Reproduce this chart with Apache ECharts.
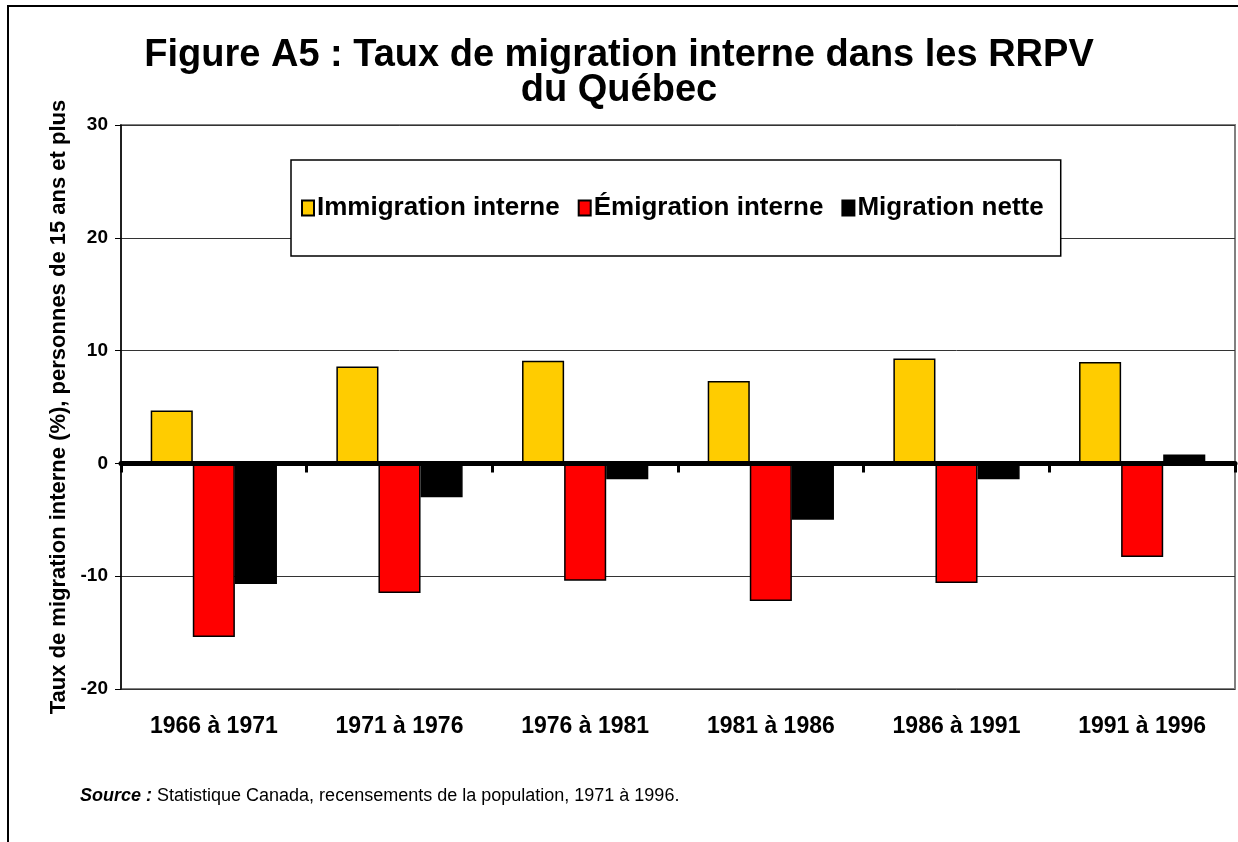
<!DOCTYPE html>
<html>
<head>
<meta charset="utf-8">
<script src="https://cdn.jsdelivr.net/npm/echarts@6/dist/echarts.min.js"></script>
<style>
    html, body { margin: 0; padding: 0; background: #fff; }
    #chart { width: 1238px; height: 842px; }
</style>
</head>
<body>
<div id="chart"></div>
<script>
// données
var categories = ['1966 à 1971', '1971 à 1976', '1976 à 1981', '1981 à 1986', '1986 à 1991', '1991 à 1996'];
var immigration = [4.7, 8.6, 9.1, 7.3, 9.3, 9.0];
var emigration = [-15.4, -11.5, -10.4, -12.2, -10.6, -8.3];
var nette = [-10.7, -3.0, -1.4, -5.0, -1.4, 0.8];
var seriesNames = ['Immigration interne', 'Émigration interne', 'Migration nette'];

var font = "'Liberation Sans', Arial, sans-serif";
var chart = echarts.init(document.getElementById('chart'));

function barSerie(name, data, color, borderColor) {
    return {
        name: name,
        type: 'bar',
        data: data,
        barGap: 0,
        barCategoryGap: '32%',
        itemStyle: {
            color: color,
            borderColor: borderColor,
            borderWidth: 1.5
        }
    };
}

var option = {
    animation: false,
    backgroundColor: '#fff',
    title: {
        text: 'Figure A5 : Taux de migration interne dans les RRPV\ndu Québec',
        left: 'center',
        top: 33,
        textStyle: {
            fontFamily: font,
            fontSize: 38,
            fontWeight: 'bold',
            color: '#000',
            lineHeight: 35
        }
    },
    legend: {
        data: seriesNames,
        icon: 'rect',
        left: 291,
        top: 160,
        orient: 'horizontal',
        padding: [35, 17, 35, 10],
        itemGap: 18,
        itemWidth: 12,
        itemHeight: 15,
        backgroundColor: '#fff',
        borderColor: '#000',
        borderWidth: 1.5,
        textStyle: {
            fontFamily: font,
            fontSize: 26,
            fontWeight: 'bold',
            color: '#000',
            padding: [0, 0, 0, -2]
        }
    },
    grid: {
        left: 121,
        top: 125,
        right: 3,
        bottom: 153,
        show: true,
        borderColor: '#808080',
        borderWidth: 2
    },
    xAxis: [
        {
            type: 'category',
            data: categories,
            z: 5,
            axisLine: {
                onZero: true,
                lineStyle: {color: '#000', width: 5}
            },
            axisTick: {
                show: true,
                length: 9,
                lineStyle: {color: '#000', width: 3}
            },
            axisLabel: {show: false}
        },
        {
            type: 'category',
            data: categories,
            position: 'bottom',
            axisLine: {show: false, onZero: false},
            axisTick: {show: false},
            axisLabel: {
                margin: 26,
                fontFamily: font,
                fontSize: 23,
                fontWeight: 'bold',
                color: '#000'
            }
        }
    ],
    yAxis: {
        type: 'value',
        min: -20,
        max: 30,
        interval: 10,
        name: 'Taux de migration interne (%), personnes de 15 ans et plus',
        nameLocation: 'middle',
        nameGap: 43,
        nameTextStyle: {
            fontFamily: font,
            fontSize: 22,
            fontWeight: 'bold',
            color: '#000'
        },
        axisLine: {show: true, lineStyle: {color: '#000', width: 1.5}},
        axisTick: {show: true, length: 6, lineStyle: {color: '#000', width: 1}},
        splitLine: {lineStyle: {color: '#333', width: 1}},
        axisLabel: {
            margin: 13,
            fontFamily: font,
            fontSize: 19,
            fontWeight: 'bold',
            color: '#000'
        }
    },
    series: [
        barSerie(seriesNames[0], immigration, '#FFCC00', '#000'),
        barSerie(seriesNames[1], emigration, '#FF0000', '#000'),
        barSerie(seriesNames[2], nette, '#000000', '#000')
    ],
    graphic: [
        {
            type: 'rect',
            shape: {x: 8, y: 6, width: 1300, height: 900},
            style: {fill: 'none', stroke: '#000', lineWidth: 2},
            silent: true
        },
        {
            type: 'text',
            left: 80,
            top: 787,
            style: {
                text: '{b|Source :} Statistique Canada, recensements de la population, 1971 à 1996.',
                rich: {
                    b: {fontFamily: font, fontSize: 18, fontWeight: 'bold', fontStyle: 'italic', fill: '#000'}
                },
                fontFamily: font,
                fontSize: 18,
                fill: '#000'
            }
        }
    ]
};

chart.setOption(option);
</script>
</body>
</html>
